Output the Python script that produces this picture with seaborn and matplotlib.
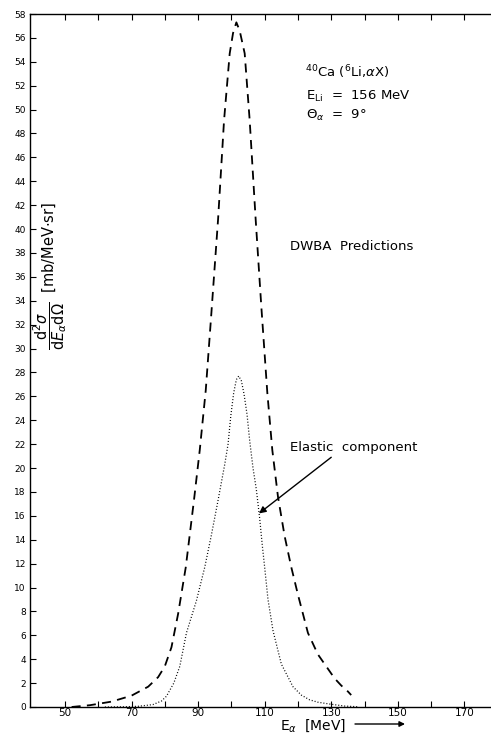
import matplotlib
matplotlib.use("Agg")
import matplotlib.pyplot as plt
import seaborn as sns
import pandas as pd

# Full DWBA prediction (dashed)
total_E = [52, 57.5, 64, 70, 75, 78, 80, 82, 84, 86.3, 88.8, 90.5, 92.3, 94, 96,
           97.8, 99.5, 100.5, 101.5, 102.5, 104, 105.5, 107.3, 109, 110.8, 112.3,
           114, 116, 118, 120, 123, 126, 128.5, 131, 133, 135, 136]
total_val = [0.0, 0.15, 0.45, 0.95, 1.7, 2.5, 3.4, 5.0, 7.8, 11.7, 17.4, 21.5, 26.5,
             33.0, 40.8, 49.1, 54.7, 56.4, 57.3, 56.6, 54.7, 49.1, 40.8, 33.5, 26.3,
             21.5, 17.6, 14.3, 11.7, 9.4, 6.2, 4.4, 3.4, 2.4, 1.8, 1.3, 1.0]

# Elastic component (dotted)
elastic_E = [62, 68, 72, 76.4, 79, 80.5, 82.7, 84.5, 86.5, 89.5, 92, 94, 96, 98,
             99, 99.8, 100.7, 101.5, 102.2, 103, 103.8, 104.7, 105.5, 106.5, 107.5,
             108.5, 109.3, 110, 111, 112.5, 115, 118.5, 121, 123.5, 126, 129.5, 134, 138]
elastic_val = [0.0, 0.02, 0.06, 0.2, 0.5, 0.9, 2.0, 3.4, 6.2, 8.9, 11.7, 14.4, 17.3,
               20.3, 22.0, 24.3, 26.3, 27.4, 27.7, 27.3, 26.2, 24.5, 22.3, 20.0, 18.2,
               15.8, 13.5, 11.7, 9.0, 6.4, 3.6, 1.7, 1.0, 0.6, 0.4, 0.25, 0.08, 0.02]

y_ticks = list(range(0, 59, 2))
x_major = [50, 70, 90, 110, 130, 150, 170]
x_minor = list(range(50, 171, 10))

sns.set_style("ticks")
plt.rcParams['font.family'] = ['DejaVu Sans']
plt.rcParams['text.color'] = 'black'
plt.rcParams['xtick.color'] = 'black'
plt.rcParams['ytick.color'] = 'black'
plt.rcParams['axes.edgecolor'] = 'black'

df_total = pd.DataFrame({"E": total_E, "v": total_val})
df_el = pd.DataFrame({"E": elastic_E, "v": elastic_val})

fig = plt.figure(figsize=(4.91, 7.38), dpi=100)
ax = fig.add_axes([30 / 491, 31 / 738, 461 / 491, 693 / 738])

sns.lineplot(data=df_total, x="E", y="v", ax=ax, color="black", lw=1.3,
             linestyle=(0, (5, 3.5)), sort=False)
sns.lineplot(data=df_el, x="E", y="v", ax=ax, color="black", lw=0.9,
             linestyle=(0, (0.8, 1.6)), sort=False)

ax.set_xlim(39.5, 178)
ax.set_ylim(0, 58)
ax.set_yticks(y_ticks)
ax.set_yticklabels([str(t) for t in y_ticks], fontsize=6.5)
ax.set_xticks(x_major)
ax.set_xticklabels([str(t) for t in x_major], fontsize=7.5)
ax.set_xticks(x_minor, minor=True)
ax.tick_params(axis='y', direction='in', length=4, width=0.8, pad=3)
ax.tick_params(axis='x', which='both', direction='in', length=4, width=0.8,
               top=True, pad=1)
ax.set_xlabel("")
ax.set_ylabel("")
ax.spines['right'].set_visible(False)
for s in ['left', 'top', 'bottom']:
    ax.spines[s].set_linewidth(1.0)

ax.text(122, 53.1, r"$^{40}$Ca ($^{6}$Li,$\alpha$X)", fontsize=9.5, va='center', ha='left')
ax.text(122.5, 51.1, r"E$_{\rm Li}$  =  156 MeV", fontsize=9.5, va='center', ha='left')
ax.text(122.5, 49.5, r"$\Theta_\alpha$  =  9°", fontsize=9.5, va='center', ha='left')
ax.text(117.5, 38.5, "DWBA  Predictions", fontsize=9.5, va='center', ha='left')
ax.text(117.5, 21.7, "Elastic  component", fontsize=9.5, va='center', ha='left')
ax.annotate("", xy=(108.3, 16.2), xytext=(130, 20.9),
            arrowprops=dict(arrowstyle="-|>", color="black", lw=1.0,
                            mutation_scale=10, shrinkA=0, shrinkB=0))

ax.text(45.5, 36.1,
        r"$\dfrac{\mathrm{d}^2\sigma}{\mathrm{d}E_\alpha \mathrm{d}\Omega}$  [mb/MeV$\cdot$sr]",
        fontsize=10.5, rotation=90, va='center', ha='center')

fig.text(280 / 491, 1 - 726 / 738, r"E$_\alpha$  [MeV]", fontsize=10, va='center', ha='left')
ax.annotate("", xy=(405 / 491, 1 - 724 / 738), xytext=(355 / 491, 1 - 724 / 738),
            xycoords='figure fraction', textcoords='figure fraction',
            arrowprops=dict(arrowstyle="-|>", color="black", lw=1.0,
                            mutation_scale=8, shrinkA=0, shrinkB=0))

fig.savefig("out.png", dpi=100)
